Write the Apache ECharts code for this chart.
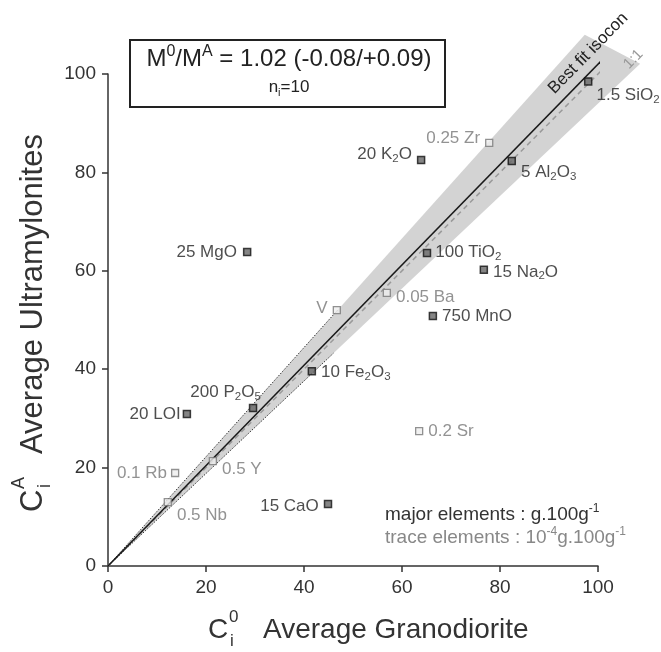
<!DOCTYPE html>
<html><head><meta charset="utf-8">
<script src="https://cdn.jsdelivr.net/npm/echarts@6/dist/echarts.min.js"></script>
<style>html,body{margin:0;padding:0;background:#fff}#c{width:661px;height:652px}</style>
</head><body><div id="c"></div>
<script>
// ---- data ----
const elements    = ['1.5 SiO2','20 K2O','0.25 Zr','5 Al2O3','100 TiO2','15 Na2O','0.05 Ba','750 MnO','25 MgO','V','10 Fe2O3','200 P2O5','20 LOI','0.1 Rb','0.5 Y','0.5 Nb','15 CaO','0.2 Sr'];
const granodiorite = [98.0, 63.9, 77.8, 82.4, 65.1, 76.7, 56.9, 66.3, 28.4, 46.7, 41.6, 29.6, 16.1, 13.7, 21.4, 12.2, 44.9, 63.5];
const ultramylonite = [98.5, 82.5, 86.0, 82.3, 63.6, 60.2, 55.5, 50.8, 63.8, 52.0, 39.6, 32.1, 30.9, 18.9, 21.3, 13.0, 12.6, 27.4];
const elementType = ['major','major','trace','major','major','major','trace','major','major','trace','major','major','major','trace','trace','trace','major','trace'];
const axisTicks = [0, 20, 40, 60, 80, 100];
const isoconSlope = 1.02, slopeLow = 0.94, slopeHigh = 1.11;
const isoconEnd = 104, oneToOneEnd = 105, dottedEnd = 47;
const bandCorners = [[0, 0], [97.3, 97.3 * slopeHigh], [108.6, 108.6 * slopeLow]];

// ---- styles (label placement) ----
const FONT = "'Liberation Sans', Arial, Helvetica, sans-serif";
const labelPlace = {
  '1.5 SiO2': ['right', [-1, 14]], '20 K2O': ['left', [0, -6]], '0.25 Zr': ['left', [0, -5]],
  '5 Al2O3': ['right', [0, 11]], '100 TiO2': ['right', [-1, -1]], '15 Na2O': ['right', [0, 2]],
  '0.05 Ba': ['right', [0, 4]], '750 MnO': ['right', [0, 0]], '25 MgO': ['left', [-1, 0]],
  'V': ['left', [0, -2]], '10 Fe2O3': ['right', [0, 1]], '200 P2O5': ['left', [17, -16]],
  '20 LOI': ['left', [3, 0]], '0.1 Rb': ['left', [1, 0]], '0.5 Y': ['right', [0, 8]],
  '0.5 Nb': ['right', [0, 13]], '15 CaO': ['left', [0, 2]], '0.2 Sr': ['right', [0, 0]]
};
function richName(name) {
  const i = name.indexOf(' ');
  const prefix = i >= 0 ? name.slice(0, i + 1) : '';
  const formula = i >= 0 ? name.slice(i + 1) : name;
  let out = '', buf = prefix;
  for (const ch of formula) {
    if (/[0-9]/.test(ch)) { if (buf) out += '{n|' + buf + '}'; buf = ''; out += '{s|' + ch + '}'; }
    else buf += ch;
  }
  if (buf) out += '{n|' + buf + '}';
  return out;
}
const labelRich = {
  n: { fontSize: 17, lineHeight: 21, fontFamily: FONT },
  s: { fontSize: 11.5, lineHeight: 10, verticalAlign: 'bottom', fontFamily: FONT }
};
function pts(type) {
  const d = [];
  elements.forEach((n, k) => {
    if (elementType[k] !== type) return;
    const p = labelPlace[n];
    d.push({ name: n, value: [granodiorite[k], ultramylonite[k]], label: { position: p[0], offset: p[1] } });
  });
  return d;
}
const chart = echarts.init(document.getElementById('c'), null, { renderer: 'canvas' });
const axisCommon = {
  type: 'value', min: 0, max: 100, interval: 20,
  axisLine: { lineStyle: { color: '#333', width: 1.5 } },
  axisTick: { length: 6, lineStyle: { color: '#333', width: 1.5 } },
  axisLabel: { fontSize: 19, color: '#333', fontFamily: FONT, margin: 12,
    formatter: v => axisTicks.includes(v) ? String(v) : '' },
  splitLine: { show: false }
};
const lineStyleSeries = (data, style, z) => ({
  type: 'line', data, showSymbol: false, clip: false, silent: true, z,
  lineStyle: style
});
chart.setOption({
  animation: false,
  backgroundColor: '#fff',
  grid: { left: 108, right: 63, top: 74, bottom: 86 },
  xAxis: axisCommon,
  yAxis: axisCommon,
  series: [
    { type: 'custom', clip: false, silent: true, z: 1,
      data: [0],
      renderItem: (params, api) => ({
        type: 'polygon',
        shape: { points: bandCorners.map(c => api.coord(c)) },
        style: { fill: '#d3d3d3' }
      }) },
    lineStyleSeries([[0, 0], [oneToOneEnd, oneToOneEnd]], { color: '#9a9a9a', width: 1.5, type: [5, 4] }, 2),
    lineStyleSeries([[0, 0], [dottedEnd, dottedEnd * slopeHigh]], { color: '#333', width: 1, type: [1.5, 1.5] }, 2),
    lineStyleSeries([[0, 0], [dottedEnd - 1, (dottedEnd - 1) * slopeLow]], { color: '#333', width: 1, type: [1.5, 1.5] }, 2),
    lineStyleSeries([[0, 0], [isoconEnd, isoconEnd * isoconSlope]], { color: '#1a1a1a', width: 1.5 }, 3),
    { type: 'scatter', z: 5, symbol: 'rect', symbolSize: 7, data: pts('major'),
      itemStyle: { color: '#666', borderColor: '#111', borderWidth: 1.5 },
      label: { show: true, distance: 5, color: '#222', formatter: p => richName(p.name), rich: labelRich } },
    { type: 'scatter', z: 5, symbol: 'rect', symbolSize: 7, data: pts('trace'),
      itemStyle: { color: '#eee', borderColor: '#777', borderWidth: 1.3 },
      label: { show: true, distance: 5, color: '#777', formatter: p => richName(p.name), rich: labelRich } }
  ]
});

// annotations placed from data coordinates
const p0 = chart.convertToPixel({ gridIndex: 0 }, [0, 0]);
const p1 = chart.convertToPixel({ gridIndex: 0 }, [100, 100 * isoconSlope]);
const ang = Math.atan2(p0[1] - p1[1], p1[0] - p0[0]);
const bestPos = chart.convertToPixel({ gridIndex: 0 }, [98, 104.2]);
const onePos = chart.convertToPixel({ gridIndex: 0 }, [107.2, 103]);
const supRich = (size) => ({
  n: { fontSize: size, lineHeight: size + 6, fontFamily: FONT },
  sup: { fontSize: Math.round(size * 0.65), lineHeight: Math.round(size * 0.6), verticalAlign: 'top', fontFamily: FONT },
  sub: { fontSize: Math.round(size * 0.65), lineHeight: Math.round(size * 0.6), verticalAlign: 'bottom', fontFamily: FONT }
});
function txt(x, y, text, size, color, extra) {
  return Object.assign({ type: 'text', x, y, silent: true, z: 10,
    style: { text, fontSize: size, fontFamily: FONT, fill: color, align: 'left', verticalAlign: 'middle' } }, extra || {});
}
chart.setOption({
  graphic: [
    { type: 'rect', shape: { x: 130, y: 40, width: 315, height: 67 }, style: { fill: '#fff', stroke: '#222', lineWidth: 2 }, z: 10, silent: true },
    { type: 'text', x: 289, y: 59, z: 11, silent: true, style: { text: '{n|M}{sup|0}{n|/M}{sup|A}{n| = 1.02 (-0.08/+0.09)}', rich: supRich(24), fill: '#222', align: 'center', verticalAlign: 'middle' } },
    { type: 'text', x: 289, y: 87, z: 11, silent: true, style: { text: '{n|n}{sub|i}{n|=10}', rich: supRich(17), fill: '#222', align: 'center', verticalAlign: 'middle' } },
    { type: 'text', x: bestPos[0], y: bestPos[1], rotation: ang, z: 11, silent: true, style: { text: 'Best fit isocon', fontSize: 17, fontFamily: FONT, fill: '#222', align: 'center', verticalAlign: 'middle' } },
    { type: 'text', x: onePos[0], y: onePos[1], rotation: ang, z: 11, silent: true, style: { text: '1:1', fontSize: 15, fontFamily: FONT, fill: '#999', align: 'center', verticalAlign: 'middle' } },
    { type: 'text', x: 385, y: 515, z: 11, silent: true, style: { text: '{n|major elements : g.100g}{sup|-1}', rich: supRich(19), fill: '#333', align: 'left', verticalAlign: 'middle' } },
    { type: 'text', x: 385, y: 538, z: 11, silent: true, style: { text: '{n|trace elements : 10}{sup|-4}{n|g.100g}{sup|-1}', rich: supRich(19), fill: '#888', align: 'left', verticalAlign: 'middle' } },
    // x axis title
    { type: 'group', x: 208, y: 630, children: [
      txt(0, 0, 'C', 28, '#333'),
      txt(21, -13, '0', 17, '#333'),
      txt(22, 11, 'i', 17, '#333'),
      txt(55, 0, 'Average Granodiorite', 28, '#333')
    ] },
    // y axis title (rotated)
    { type: 'group', x: 33, y: 512, rotation: Math.PI / 2, children: [
      txt(0, 0, 'C', 31, '#333'),
      txt(23, -14, 'A', 18, '#333'),
      txt(24, 12, 'i', 18, '#333'),
      txt(58, 0, 'Average Ultramylonites', 31, '#333')
    ] }
  ]
});
</script></body></html>
